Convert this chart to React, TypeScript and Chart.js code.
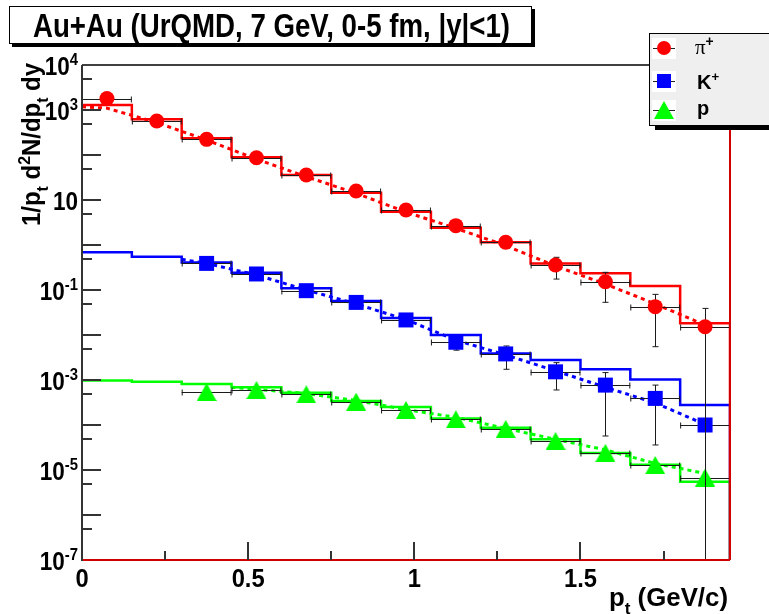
import React, { useEffect, useRef } from 'react';
import { Chart, registerables } from 'chart.js';

Chart.register(...registerables);

// ---------- data ----------
const binEdges = [0, 0.15, 0.3, 0.45, 0.6, 0.75, 0.9, 1.05, 1.2, 1.35, 1.5, 1.65, 1.8, 1.95];

// UrQMD histograms (per bin)
const piHist = [1290, 621, 235, 89, 36, 14.5, 5.5, 2.43, 1.15, 0.39, 0.235, 0.123, 0.0182];
const kHist = [0.687, 0.55, 0.41, 0.243, 0.109, 0.057, 0.0239, 0.01, 0.0039, 0.0028, 0.00173, 0.00103, 0.00028];
const pHist = [9.7e-4, 9.2e-4, 8.1e-4, 6.9e-4, 5.2e-4, 3.4e-4, 2.5e-4, 1.4e-4, 8.7e-5, 4.8e-5, 2.4e-5, 1.3e-5, 5.5e-6];

// measured points
const piX = [0.075, 0.225, 0.375, 0.525, 0.675, 0.825, 0.975, 1.125, 1.275, 1.425, 1.575, 1.725, 1.875];
const piVal = [1800, 570, 223, 87, 36, 15.8, 6.0, 2.69, 1.15, 0.36, 0.153, 0.0426, 0.0153];
const piErrLo = [1800, 570, 223, 87, 36, 15.8, 6.0, 2.69, 1.15, 0.175, 0.0533, 0.0055, 1e-9];
const piErrHi = [1800, 570, 223, 87, 36, 15.8, 6.0, 2.69, 1.15, 0.533, 0.247, 0.08, 0.039];

const kX = [0.375, 0.525, 0.675, 0.825, 0.975, 1.125, 1.275, 1.425, 1.575, 1.725, 1.875];
const kVal = [0.39, 0.227, 0.0966, 0.053, 0.0216, 0.0069, 0.0038, 0.00152, 0.00077, 0.00039, 0.0001];
const kErrLo = [0.39, 0.227, 0.0966, 0.053, 0.0216, 0.0046, 0.00173, 0.0006, 0.000057, 0.000036, 1e-9];
const kErrHi = [0.39, 0.227, 0.0966, 0.053, 0.0216, 0.0069, 0.0057, 0.00243, 0.00146, 0.00077, 0.0001];

const pX = [0.375, 0.525, 0.675, 0.825, 0.975, 1.125, 1.275, 1.425, 1.575, 1.725, 1.875];
const pVal = [5.4e-4, 6.0e-4, 4.8e-4, 3.3e-4, 2.15e-4, 1.34e-4, 8.2e-5, 4.4e-5, 2.4e-5, 1.29e-5, 6.8e-6];

// dotted fit curves
const piFitX = [0, 0.075, 0.225, 0.375, 0.525, 0.675, 0.825, 0.975, 1.125, 1.275, 1.425, 1.575, 1.725, 1.875];
const piFit = [1180, 1100, 525, 215, 81, 33, 14.1, 5.4, 2.35, 0.97, 0.34, 0.136, 0.049, 0.0167];
const kFitX = [0.3, 0.375, 0.525, 0.675, 0.825, 0.975, 1.125, 1.275, 1.425, 1.575, 1.725, 1.875];
const kFit = [0.48, 0.39, 0.216, 0.1, 0.049, 0.022, 0.0077, 0.0036, 0.0016, 0.00069, 0.00031, 0.000103];
const pFitX = [0.45, 0.525, 0.675, 0.825, 0.975, 1.125, 1.275, 1.425, 1.575, 1.725, 1.875];
const pFit = [6.9e-4, 6.2e-4, 5.0e-4, 3.5e-4, 2.2e-4, 1.48e-4, 8.4e-5, 4.8e-5, 2.8e-5, 1.4e-5, 8.4e-6];

// axes
const xMajorTicks = [0, 0.5, 1, 1.5];
const xMajorLabels = ['0', '0.5', '1', '1.5'];
const xMinorTicks = [0.25, 0.75, 1.25, 1.75];
const yDecadeTicks = [1e4, 1e3, 1e2, 10, 1, 0.1, 0.01, 1e-3, 1e-4, 1e-5, 1e-6, 1e-7];
const yMinorTicks = [5e3, 5e2, 50, 5, 0.5, 0.05, 5e-3, 5e-4, 5e-5, 5e-6, 5e-7];
const yLabelValues = [1e4, 1e3, 10, 0.1, 1e-3, 1e-5, 1e-7];
const yLabelExps = ['4', '3', '', '-1', '-3', '-5', '-7'];

const titleText = 'Au+Au (UrQMD, 7 GeV, 0-5 fm, |y|<1)';
const legendLabels = ['π', 'K', 'p'];

const RED = '#ff0000';
const BLUE = '#0000ff';
const GREEN = '#00ff00';
const SANS = '"Liberation Sans", Arial, Helvetica, sans-serif';
const SERIF = '"Liberation Serif", "DejaVu Serif", serif';

type Seg = { t: string; k?: 'sup' | 'sub'; fam?: string; w?: string };

function segFont(s: Seg, size: number) {
  const sz = s.k ? size * 0.66 : size;
  return `${s.w ?? 'bold'} ${sz}px ${s.fam ?? SANS}`;
}
function measureRich(ctx: CanvasRenderingContext2D, segs: Seg[], size: number) {
  let w = 0;
  for (const s of segs) {
    ctx.font = segFont(s, size);
    w += ctx.measureText(s.t).width;
  }
  return w;
}
function drawRich(
  ctx: CanvasRenderingContext2D,
  segs: Seg[],
  x: number,
  y: number,
  size: number,
  align: 'left' | 'right' | 'center',
  sx = 1,
  fitWidth?: number
) {
  const w = measureRich(ctx, segs, size);
  const scale = fitWidth ? fitWidth / w : sx;
  const tw = w * scale;
  const x0 = align === 'left' ? x : align === 'right' ? x - tw : x - tw / 2;
  ctx.save();
  ctx.translate(x0, y);
  ctx.scale(scale, 1);
  ctx.textAlign = 'left';
  ctx.textBaseline = 'alphabetic';
  ctx.fillStyle = '#000';
  let cx = 0;
  for (const s of segs) {
    ctx.font = segFont(s, size);
    const dy = s.k === 'sup' ? -size * 0.4 : s.k === 'sub' ? size * 0.3 : 0;
    ctx.fillText(s.t, cx, dy);
    cx += ctx.measureText(s.t).width;
  }
  ctx.restore();
}

function makeTriangle(color: string, w: number, h: number) {
  const c = document.createElement('canvas');
  c.width = w;
  c.height = h;
  const g = c.getContext('2d')!;
  g.fillStyle = color;
  g.beginPath();
  g.moveTo(w / 2, 0);
  g.lineTo(w, h);
  g.lineTo(0, h);
  g.closePath();
  g.fill();
  return c;
}

export default function App() {
  const ref = useRef<HTMLCanvasElement>(null);

  useEffect(() => {
    const canvas = ref.current!;
    const tri = makeTriangle(GREEN, 20, 18);

    const histData = (vals: number[]) =>
      binEdges
        .map((x, i) => ({ x, y: vals[Math.min(i, vals.length - 1)] }))
        .concat([{ x: binEdges[binEdges.length - 1], y: 1e-9 }]);
    const xy = (xs: number[], ys: number[]) => xs.map((x, i) => ({ x, y: ys[i] }));

    const errSpecs: Record<number, { xs: number[]; vals: number[]; lo?: number[]; hi?: number[] }> = {
      6: { xs: piX, vals: piVal, lo: piErrLo, hi: piErrHi },
      7: { xs: kX, vals: kVal, lo: kErrLo, hi: kErrHi },
      8: { xs: pX, vals: pVal },
    };

    const decor = {
      id: 'rootDecor',
      beforeDatasetDraw(chart: any, args: any) {
        const spec = errSpecs[args.index];
        if (!spec) return;
        const ctx: CanvasRenderingContext2D = chart.ctx;
        const xs = chart.scales.x;
        const ys = chart.scales.y;
        const a = chart.chartArea;
        ctx.save();
        ctx.beginPath();
        ctx.rect(a.left, a.top, a.right - a.left, a.bottom - a.top);
        ctx.clip();
        ctx.strokeStyle = '#1a1a1a';
        ctx.lineWidth = 1;
        spec.xs.forEach((xv, i) => {
          const px = xs.getPixelForValue(xv);
          const py = Math.round(ys.getPixelForValue(spec.vals[i])) + 0.5;
          const xl = xs.getPixelForValue(xv - 0.075);
          const xr = xs.getPixelForValue(xv + 0.075);
          ctx.beginPath();
          ctx.moveTo(xl, py);
          ctx.lineTo(xr, py);
          ctx.moveTo(xl + 0.5, py - 3);
          ctx.lineTo(xl + 0.5, py + 3);
          ctx.moveTo(xr - 0.5, py - 3);
          ctx.lineTo(xr - 0.5, py + 3);
          ctx.stroke();
          if (spec.lo && spec.hi && (spec.lo[i] < spec.vals[i] || spec.hi[i] > spec.vals[i])) {
            const yt = ys.getPixelForValue(spec.hi[i]);
            const yb = ys.getPixelForValue(spec.lo[i]);
            const vx = Math.round(px) + 0.5;
            ctx.beginPath();
            ctx.moveTo(vx, yt);
            ctx.lineTo(vx, yb);
            ctx.moveTo(vx - 3, yt);
            ctx.lineTo(vx + 3, yt);
            ctx.moveTo(vx - 3, yb);
            ctx.lineTo(vx + 3, yb);
            ctx.stroke();
          }
        });
        ctx.restore();
      },
      afterDatasetsDraw(chart: any) {
        const ctx: CanvasRenderingContext2D = chart.ctx;
        const xs = chart.scales.x;
        const ys = chart.scales.y;
        const a = chart.chartArea;
        ctx.save();
        // frame
        ctx.strokeStyle = '#000';
        ctx.lineWidth = 1.5;
        ctx.beginPath();
        ctx.moveTo(a.left, a.top);
        ctx.lineTo(a.right, a.top);
        ctx.stroke();
        ctx.strokeStyle = '#d00000';
        ctx.lineWidth = 2;
        ctx.beginPath();
        ctx.moveTo(a.right, a.top);
        ctx.lineTo(a.right, a.bottom);
        ctx.moveTo(a.left, a.bottom);
        ctx.lineTo(a.right, a.bottom);
        ctx.stroke();
        ctx.strokeStyle = '#333';
        ctx.lineWidth = 2;
        ctx.beginPath();
        ctx.moveTo(a.left, a.top);
        ctx.lineTo(a.left, a.bottom + 1);
        ctx.stroke();
        // ticks
        ctx.lineWidth = 2;
        ctx.strokeStyle = '#333';
        ctx.beginPath();
        yDecadeTicks.forEach((v) => {
          const py = Math.round(ys.getPixelForValue(v));
          if (py <= a.top + 1 || py >= a.bottom - 1) return;
          ctx.moveTo(a.left, py);
          ctx.lineTo(a.left + 19, py);
        });
        yMinorTicks.forEach((v) => {
          const py = Math.round(ys.getPixelForValue(v));
          ctx.moveTo(a.left, py);
          ctx.lineTo(a.left + 10, py);
        });
        xMajorTicks.forEach((v) => {
          const px = Math.round(xs.getPixelForValue(v));
          if (px <= a.left + 1) return;
          ctx.moveTo(px, a.bottom);
          ctx.lineTo(px, a.bottom - 18);
        });
        xMinorTicks.forEach((v) => {
          const px = Math.round(xs.getPixelForValue(v));
          ctx.moveTo(px, a.bottom);
          ctx.lineTo(px, a.bottom - 9);
        });
        ctx.stroke();
        ctx.restore();
      },
      afterDraw(chart: any) {
        const ctx: CanvasRenderingContext2D = chart.ctx;
        const xs = chart.scales.x;
        const ys = chart.scales.y;
        const a = chart.chartArea;
        ctx.save();
        // y tick labels
        yLabelValues.forEach((v, i) => {
          const py = ys.getPixelForValue(v);
          const segs: Seg[] = [{ t: '10' }];
          if (yLabelExps[i]) segs.push({ t: yLabelExps[i], k: 'sup' });
          drawRich(ctx, segs, a.left - 4, py + 10, 25, 'right', 0.9);
        });
        // x tick labels
        xMajorTicks.forEach((v, i) => {
          const px = xs.getPixelForValue(v);
          drawRich(ctx, [{ t: xMajorLabels[i] }], px, a.bottom + 27, 25, 'center', 0.95);
        });
        // x title
        drawRich(ctx, [{ t: 'p' }, { t: 't', k: 'sub' }, { t: ' (GeV/c)' }], 609, 606, 25, 'left', 1, 119);
        // y title (rotated)
        ctx.save();
        ctx.translate(40, 226);
        ctx.rotate(-Math.PI / 2);
        drawRich(
          ctx,
          [
            { t: '1/p' },
            { t: 't', k: 'sub' },
            { t: ' d' },
            { t: '2', k: 'sup' },
            { t: 'N/dp' },
            { t: 't', k: 'sub' },
            { t: ' dy' },
          ],
          0,
          0,
          25,
          'left',
          1,
          163
        );
        ctx.restore();

        // title box
        ctx.fillStyle = '#000';
        ctx.fillRect(12, 44, 523, 3);
        ctx.fillRect(532, 9, 3, 38);
        ctx.fillStyle = '#fff';
        ctx.fillRect(9, 6, 523, 38);
        ctx.strokeStyle = '#000';
        ctx.lineWidth = 1;
        ctx.strokeRect(9.5, 6.5, 522, 37);
        drawRich(ctx, [{ t: titleText }], 33, 37, 34, 'left', 1, 477);

        // legend
        ctx.fillStyle = '#000';
        ctx.fillRect(655, 126, 120, 4);
        ctx.fillStyle = '#efefef';
        ctx.fillRect(649, 33, 125, 93);
        ctx.strokeStyle = '#000';
        ctx.lineWidth = 1;
        ctx.strokeRect(649.5, 33.5, 130, 92);
        const ly = [48, 81, 110];
        ly.forEach((y) => {
          ctx.fillStyle = '#fff';
          ctx.fillRect(652, y - 10, 24, 21);
          ctx.strokeStyle = '#222';
          ctx.beginPath();
          ctx.moveTo(653, y + 0.5);
          ctx.lineTo(675, y + 0.5);
          ctx.stroke();
        });
        ctx.fillStyle = RED;
        ctx.beginPath();
        ctx.arc(664, ly[0], 7, 0, Math.PI * 2);
        ctx.fill();
        ctx.fillStyle = BLUE;
        ctx.fillRect(664 - 7, ly[1] - 7, 14, 14);
        ctx.drawImage(tri, 664 - 10, ly[2] - 9);
        drawRich(ctx, [{ t: legendLabels[0], fam: SERIF, w: 'normal' }, { t: '+', k: 'sup' }], 695, 54, 21, 'left');
        drawRich(ctx, [{ t: legendLabels[1] }, { t: '+', k: 'sup' }], 697, 89, 20, 'left');
        drawRich(ctx, [{ t: legendLabels[2] }], 697, 115, 20, 'left');
        ctx.restore();
      },
    };

    const chart = new Chart(canvas, {
      type: 'line',
      data: {
        datasets: [
          // 0-2 histograms
          { data: histData(piHist), borderColor: RED, borderWidth: 2.5, stepped: 'before', pointRadius: 0, order: 3 },
          { data: histData(kHist), borderColor: BLUE, borderWidth: 2.5, stepped: 'before', pointRadius: 0, order: 3 },
          { data: histData(pHist), borderColor: GREEN, borderWidth: 2.5, stepped: 'before', pointRadius: 0, order: 3 },
          // 3-5 dotted fits
          { data: xy(piFitX, piFit), borderColor: RED, borderWidth: 3, borderDash: [4, 4], pointRadius: 0, order: 2 },
          { data: xy(kFitX, kFit), borderColor: BLUE, borderWidth: 3, borderDash: [4, 4], pointRadius: 0, order: 2 },
          { data: xy(pFitX, pFit), borderColor: GREEN, borderWidth: 3, borderDash: [4, 4], pointRadius: 0, order: 2 },
          // 6-8 points
          {
            data: xy(piX, piVal),
            showLine: false,
            pointStyle: 'circle',
            pointRadius: 7.5,
            pointBackgroundColor: RED,
            pointBorderColor: RED,
            pointBorderWidth: 0,
            order: 1,
          },
          {
            data: xy(kX, kVal),
            showLine: false,
            pointStyle: 'rect',
            pointRadius: 10.6,
            pointBackgroundColor: BLUE,
            pointBorderColor: BLUE,
            pointBorderWidth: 0,
            order: 1,
          },
          {
            data: xy(pX, pVal),
            showLine: false,
            pointStyle: tri as any,
            pointRadius: 10,
            pointBackgroundColor: GREEN,
            pointBorderWidth: 0,
            order: 1,
          },
        ] as any,
      },
      options: {
        responsive: false,
        maintainAspectRatio: false,
        animation: false,
        devicePixelRatio: 1,
        events: [],
        layout: { padding: { left: 82, top: 65, right: 39, bottom: 54 } },
        scales: {
          x: { type: 'linear', min: 0, max: 1.95, display: false },
          y: { type: 'logarithmic', min: 1e-7, max: 1e4, display: false },
        },
        plugins: { legend: { display: false }, tooltip: { enabled: false }, title: { display: false } },
      },
      plugins: [decor],
    });
    return () => chart.destroy();
  }, []);

  return (
    <div style={{ position: 'absolute', left: 0, top: 0, width: 769, height: 614, background: '#fff' }}>
      <canvas ref={ref} width={769} height={614} style={{ display: 'block', width: 769, height: 614 }} />
    </div>
  );
}
